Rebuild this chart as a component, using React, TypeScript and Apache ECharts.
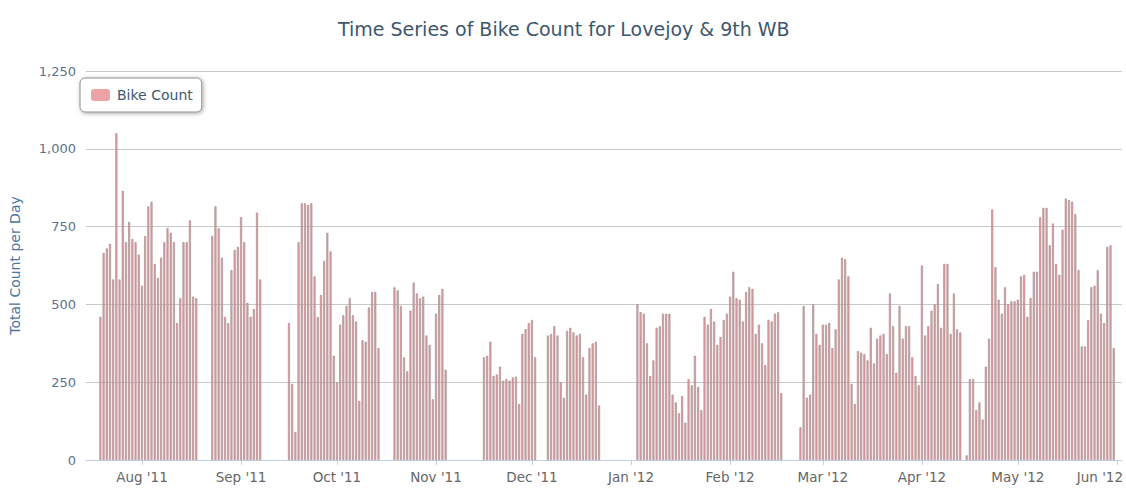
import React, { useEffect, useRef } from "react";
import * as echarts from "echarts";

// ---------- text ----------
const chartTitle = "Time Series of Bike Count for Lovejoy & 9th WB";
const seriesName = "Bike Count";
const yAxisTitle = "Total Count per Day";
const monthNames = ["Jan", "Feb", "Mar", "Apr", "May", "Jun", "Jul", "Aug", "Sep", "Oct", "Nov", "Dec"];

// ---------- axis ----------
const axisStartDate = "2011-07-15";
const axisEndDate = "2012-06-02";
const yMin = 0;
const yMax = 1250;
const yInterval = 250;

// ---------- data: daily counts, one array per recorded stretch ----------
const segmentStarts = [
  "2011-07-19",
  "2011-08-23",
  "2011-09-16",
  "2011-10-19",
  "2011-11-16",
  "2011-12-06",
  "2012-01-03",
  "2012-02-23",
  "2012-04-15",
];

const countsJulAug2011 = [460, 665, 680, 695, 580, 1050, 580, 865, 700, 765, 710, 700, 660, 560, 720, 815, 830, 630, 585, 650, 700, 745, 730, 700, 440, 520, 700, 700, 770, 525, 520];
const countsAugSep2011 = [720, 815, 745, 650, 460, 440, 610, 675, 685, 780, 700, 505, 460, 485, 795, 580];
const countsSepOct2011 = [440, 245, 90, 700, 825, 825, 820, 825, 590, 460, 530, 640, 730, 670, 335, 250, 435, 465, 495, 520, 465, 445, 190, 385, 380, 490, 540, 540, 360];
const countsOctNov2011 = [555, 545, 495, 330, 285, 480, 570, 535, 520, 525, 400, 370, 195, 470, 530, 550, 290];
const countsNovDec2011 = [330, 335, 380, 270, 275, 300, 255, 260, 255, 265, 268, 180, 405, 420, 440, 450, 330];
const countsDec2011 = [400, 405, 430, 400, 250, 200, 415, 425, 410, 400, 405, 330, 210, 360, 375, 380, 175];
const countsJanFeb2012 = [500, 475, 470, 375, 270, 320, 425, 430, 470, 470, 470, 210, 185, 150, 205, 120, 260, 240, 335, 235, 160, 460, 435, 485, 445, 370, 395, 450, 470, 525, 605, 520, 515, 445, 540, 555, 550, 405, 435, 375, 305, 450, 445, 470, 475, 215];
const countsFebApr2012 = [105, 495, 200, 210, 500, 405, 370, 435, 435, 440, 360, 420, 580, 650, 645, 590, 245, 180, 350, 345, 340, 320, 425, 310, 390, 400, 405, 340, 535, 430, 280, 495, 390, 430, 430, 330, 270, 240, 625, 400, 430, 480, 500, 565, 425, 630, 630, 405, 535, 420, 410];
const countsAprMay2012 = [15, 260, 260, 160, 185, 130, 300, 390, 805, 620, 515, 470, 555, 500, 510, 510, 515, 590, 595, 460, 520, 605, 605, 780, 810, 810, 690, 760, 630, 595, 740, 840, 835, 830, 790, 610, 365, 365, 450, 555, 560, 610, 470, 440, 685, 690, 360];

const segmentValues = [
  countsJulAug2011,
  countsAugSep2011,
  countsSepOct2011,
  countsOctNov2011,
  countsNovDec2011,
  countsDec2011,
  countsJanFeb2012,
  countsFebApr2012,
  countsAprMay2012,
];

const DAY = 86400000;
const toUTC = (s: string) => {
  const [y, m, d] = s.split("-").map(Number);
  return Date.UTC(y, m - 1, d);
};
const fmt = (t: number) => new Date(t).toISOString().slice(0, 10);

function buildData() {
  const categories: string[] = [];
  for (let t = toUTC(axisStartDate); t <= toUTC(axisEndDate); t += DAY) categories.push(fmt(t));
  const byDate: Record<string, number> = {};
  segmentStarts.forEach((s, k) => {
    const t0 = toUTC(s);
    segmentValues[k].forEach((v, j) => {
      byDate[fmt(t0 + j * DAY)] = v;
    });
  });
  const values = categories.map((c) => (c in byDate ? byDate[c] : null));
  return { categories, values };
}

const FONT = "DejaVu Sans";

export default function App() {
  const ref = useRef<HTMLDivElement>(null);
  useEffect(() => {
    if (!ref.current) return;
    const chart = echarts.init(ref.current, undefined, { renderer: "svg" });
    const { categories, values } = buildData();
    const isMonthStart = (_i: number, v: string) => v.endsWith("-01");
    const lastLabel = categories.filter((c) => c.endsWith("-01")).slice(-1)[0];

    chart.setOption({
      animation: false,
      backgroundColor: "#ffffff",
      title: {
        text: chartTitle,
        left: 333,
        top: 14,
        textStyle: { fontFamily: FONT, fontSize: 19, fontWeight: "normal", color: "#3E576F" },
      },
      legend: {
        left: 80,
        top: 78,
        orient: "horizontal",
        padding: [10, 9, 10, 11],
        itemWidth: 19,
        itemHeight: 12,
        backgroundColor: "#ffffff",
        borderColor: "#909090",
        borderWidth: 1,
        borderRadius: 5,
        shadowBlur: 4,
        shadowColor: "rgba(0,0,0,0.35)",
        shadowOffsetX: 1,
        shadowOffsetY: 1,
        icon: "roundRect",
        textStyle: { fontFamily: FONT, fontSize: 14, color: "#3E576F", padding: [0, 0, 0, 2] },
        data: [{ name: seriesName, itemStyle: { color: "#EDA3A6", borderWidth: 0 } }],
      },
      grid: { left: 79, right: 0, top: 71, bottom: 37, containLabel: false },
      xAxis: {
        type: "category",
        data: categories,
        boundaryGap: true,
        axisLine: { show: true, lineStyle: { color: "#C0D0E0", width: 1 } },
        axisTick: { show: true, interval: isMonthStart, alignWithLabel: true, length: 5, lineStyle: { color: "#C0D0E0" } },
        axisLabel: {
          interval: isMonthStart,
          margin: 10,
          fontFamily: FONT,
          fontSize: 13.5,
          color: "#666666",
          formatter: (v: string) => {
            const [y, m] = v.split("-");
            const txt = `${monthNames[Number(m) - 1]} '${y.slice(2)}`;
            return v === lastLabel ? `{last|${txt}}` : txt;
          },
          rich: {
            last: { fontFamily: FONT, fontSize: 13.5, color: "#666666", padding: [0, 34, 0, 0] },
          },
        },
        splitLine: { show: false },
      },
      yAxis: {
        type: "value",
        min: yMin,
        max: yMax,
        interval: yInterval,
        name: yAxisTitle,
        nameLocation: "middle",
        nameRotate: 90,
        nameGap: 64,
        nameTextStyle: { fontFamily: FONT, fontSize: 14, color: "#4D759E" },
        axisLine: { show: false },
        axisTick: { show: false },
        axisLabel: {
          margin: 10,
          fontFamily: FONT,
          fontSize: 13,
          color: "#5A7391",
          formatter: (v: number) => v.toLocaleString("en-US"),
        },
        splitLine: { show: true, lineStyle: { color: "#C8C8C8", width: 1 } },
      },
      series: [
        {
          name: seriesName,
          type: "bar",
          data: values,
          barWidth: 2,
          itemStyle: { color: "#E6A2A6", borderColor: "#A08486", borderWidth: 0.6 },
        },
      ],
    });
    return () => chart.dispose();
  }, []);
  return <div ref={ref} style={{ position: "absolute", left: 0, top: 0, width: 1126, height: 497 }} />;
}
